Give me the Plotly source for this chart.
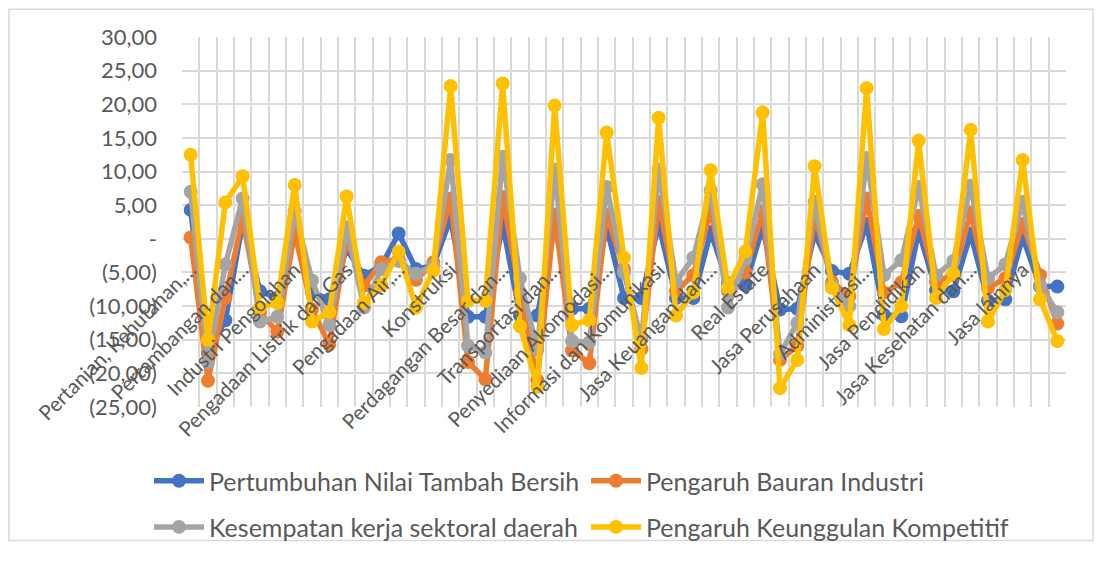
import plotly.graph_objects as go

# 17 sectors, three points each (labels only on the first point of each group)
sector_labels = [
    "Pertanian, Kehutanan,…", "Pertambangan dan…", "Industri Pengolahan",
    "Pengadaan Listrik dan Gas", "Pengadaan Air,…", "Konstruksi",
    "Perdagangan Besar dan…", "Transportasi dan…", "Penyediaan Akomodasi…",
    "Informasi dan Komunikasi", "Jasa Keuangan dan…", "Real Estate",
    "Jasa Perusahaan", "Administrasi…", "Jasa Pendidikan",
    "Jasa Kesehatan dan…", "Jasa lainnya",
]

pertumbuhan = [4.3, -17.0, -12.1, 2.5, -7.8, -8.8, 2.0, -8.0, -9.0, -1.5,
               -5.5, -4.0, 0.8, -4.5, -4.0, 3.1, -11.6, -11.6, 2.2, -11.4,
               -11.4, 2.0, -10.4, -10.4, 1.7, -8.8, -8.8, 2.2, -8.8, -8.8,
               1.0, -6.6, -6.9, 1.7, -10.5, -10.4, 0.8, -4.8, -5.2, 2.2,
               -11.3, -11.5, 1.2, -7.6, -7.8, 0.8, -9.2, -9.0, 0.3, -7.1, -7.1]

bauran = [0.2, -21.1, -8.8, 3.1, -11.0, -13.8, 1.0, -10.5, -15.7, 0.0,
          -7.0, -3.5, -3.0, -6.1, -3.5, 6.0, -18.3, -20.9, 6.2, -8.0,
          -21.0, 3.6, -16.6, -18.5, 3.6, -4.5, -16.4, 5.5, -7.8, -5.4,
          4.2, -7.8, -5.0, 4.1, -18.0, -15.9, 3.6, -6.4, -8.5, 6.0,
          -8.0, -6.5, 3.4, -6.4, -5.4, 3.9, -7.3, -5.9, 2.2, -5.4, -12.6]

kesempatan = [7.0, -18.3, -3.8, 6.0, -12.3, -11.6, 4.1, -6.2, -12.8, 1.7,
              -10.2, -4.5, -3.3, -5.2, -4.0, 11.7, -15.9, -16.9, 12.2, -5.9,
              -16.5, 10.3, -15.2, -15.4, 7.7, -5.0, -15.0, 10.3, -6.4, -2.8,
              7.2, -10.2, -3.0, 8.1, -17.1, -12.5, 5.5, -6.9, -10.0, 12.0,
              -5.4, -3.2, 7.7, -5.4, -3.3, 7.9, -5.9, -3.8, 5.5, -6.9, -10.9]

keunggulan = [12.5, -15.0, 5.4, 9.3, -10.2, -9.5, 8.0, -12.3, -10.9, 6.3,
              -9.5, -6.9, -1.9, -10.2, -4.7, 22.7, -9.2, -9.2, 23.1, -13.0,
              -22.0, 19.8, -12.8, -12.1, 15.8, -2.8, -19.2, 18.0, -11.4, -8.0,
              10.2, -7.3, -1.9, 18.8, -22.2, -18.0, 10.8, -7.3, -12.8, 22.4,
              -13.4, -10.0, 14.6, -8.8, -5.2, 16.2, -12.3, -7.6, 11.7, -9.0, -15.2]

series_names = ["Pertumbuhan Nilai Tambah Bersih", "Pengaruh Bauran Industri",
                "Kesempatan kerja sektoral daerah", "Pengaruh Keunggulan Kompetitif"]
series_values = [pertumbuhan, bauran, kesempatan, keunggulan]
series_colors = ["#4472C4", "#ED7D31", "#A5A5A5", "#FFC000"]
legend_ids = ["legend", "legend", "legend2", "legend2"]

y_tickvals = [30, 25, 20, 15, 10, 5, 0, -5, -10, -15, -20, -25]
y_ticktext = ["30,00", "25,00", "20,00", "15,00", "10,00", "5,00", "-",
              "(5,00)", "(10,00)", "(15,00)", "(20,00)", "(25,00)"]

n = len(pertumbuhan)
xs = list(range(n))
group = 3

FONT = "Lato"
TXT = "#595959"
GRID = "#D9D9D9"

fig = go.Figure()
for name, vals, col, lg in zip(series_names, series_values, series_colors, legend_ids):
    fig.add_trace(go.Scatter(
        x=xs, y=vals, name=name, mode="lines+markers",
        line=dict(color=col, width=5.5),
        marker=dict(color=col, size=14),
        legend=lg,
    ))

# page has an 8px body margin on every side; keep the document inside the window
OFF = 8
PAGE_W, PAGE_H = 1102, 570
W, H = PAGE_W - 2 * OFF, PAGE_H - 2 * OFF
plot_l, plot_r, plot_t, plot_b = 182, 1066, 37, 422   # page coordinates
L, R, T, B = plot_l - OFF, W - (plot_r - OFF), plot_t - OFF, H - (plot_b - OFF)
pw, ph = plot_r - plot_l, plot_b - plot_t


def px(x):
    return (x - plot_l) / pw


def py(y):
    return (plot_b - y) / ph


zero_pos = (0 - (-25)) / (30 - (-25))

legend_common = dict(orientation="h", x=px(149), xanchor="left",
                     yanchor="middle", entrywidth=372, entrywidthmode="pixels",
                     itemwidth=50, font=dict(size=25, color=TXT),
                     bgcolor="rgba(0,0,0,0)")

fig.update_layout(
    width=W, height=H,
    margin=dict(l=L, r=R, t=T, b=B),
    plot_bgcolor="white", paper_bgcolor="white",
    font=dict(family=FONT, color=TXT, size=22),
    xaxis=dict(
        range=[-0.5, n - 0.5],
        tickmode="array",
        tickvals=xs[::group],
        ticktext=sector_labels,
        tickangle=-45,
        tickfont=dict(size=20.5, color=TXT),
        showgrid=False,
        zeroline=False,
        showline=False,
        ticks="outside", ticklen=10, tickcolor="rgba(0,0,0,0)",
        anchor="free", position=zero_pos,
        automargin=False,
        minor=dict(tickmode="array", tickvals=[i - 0.5 for i in range(n + 1)],
                   showgrid=True, gridcolor=GRID, gridwidth=2, ticks=""),
    ),
    yaxis=dict(
        range=[-25, 30],
        tickmode="array", tickvals=y_tickvals, ticktext=y_ticktext,
        tickfont=dict(size=22, color=TXT),
        showgrid=True, gridcolor=GRID, gridwidth=2,
        zeroline=False, showline=False,
        ticklabelstandoff=24,
        automargin=False,
    ),
    legend=dict(legend_common, y=py(499)),
    legend2=dict(legend_common, y=py(547)),
    shapes=[dict(type="rect", xref="paper", yref="paper",
                 x0=px(9), x1=px(1093),
                 y0=py(561), y1=py(8),
                 line=dict(color=GRID, width=1.5), layer="below")],
)

fig.write_html("out.html")
